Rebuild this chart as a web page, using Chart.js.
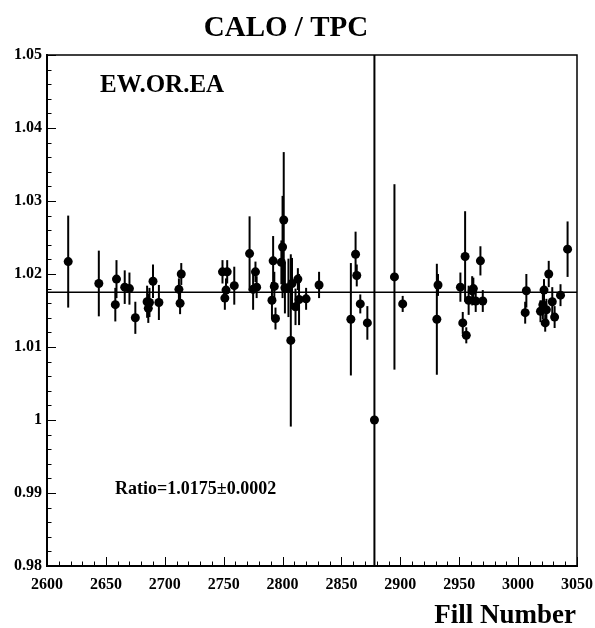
<!DOCTYPE html>
<html>
<head>
<meta charset="utf-8">
<script src="https://cdn.jsdelivr.net/npm/chart.js@4.4.1/dist/chart.umd.min.js"></script>
<style>
  body { margin: 0; background: #fff; }
  canvas { display: block; }
</style>
</head>
<body>
<canvas id="ratioChart" width="595" height="628"></canvas>
<script>
// fill numbers, CALO/TPC ratio and its error
const fills = [2618, 2644, 2658, 2659, 2666, 2670, 2675, 2685, 2686, 2687, 2690, 2695,
    2712, 2713, 2714, 2749, 2751, 2752, 2753, 2759, 2772, 2775, 2777, 2778,
    2791, 2792, 2793, 2794, 2799, 2800, 2801, 2802, 2805, 2807, 2808, 2811, 2813, 2814, 2820, 2831,
    2858, 2862, 2863, 2866, 2872, 2878, 2895, 2902, 2931, 2932,
    2951, 2953, 2955, 2956, 2958, 2961, 2962, 2964, 2968, 2970,
    3006, 3007, 3019, 3021, 3022, 3023, 3024, 3026, 3029, 3031, 3036, 3042];
const ratios = [1.0217, 1.0187, 1.0158, 1.0193, 1.0182, 1.0180, 1.0140, 1.0162, 1.0153, 1.0161, 1.0190, 1.0161,
    1.0179, 1.0160, 1.0200, 1.0203, 1.0167, 1.0178, 1.0203, 1.0184, 1.0228, 1.0179, 1.0203, 1.0182,
    1.0164, 1.0218, 1.0183, 1.0139, 1.0216, 1.0237, 1.0274, 1.0181, 1.0181, 1.0109, 1.0187, 1.0155, 1.0193, 1.0165, 1.0166, 1.0185,
    1.0138, 1.0227, 1.0198, 1.0159, 1.0133, 1.0000, 1.0196, 1.0159, 1.0138, 1.0185,
    1.0182, 1.0133, 1.0224, 1.0116, 1.0164, 1.0177, 1.0180, 1.0163, 1.0218, 1.0163,
    1.0147, 1.0177, 1.0149, 1.0158, 1.0178, 1.0133, 1.0151, 1.0200, 1.0162, 1.0141, 1.0171, 1.0234];
const errors = [0.0063, 0.0045, 0.0023, 0.0026, 0.0023, 0.0022, 0.0022, 0.0022, 0.0020, 0.0020, 0.0023, 0.0024,
    0.0015, 0.0015, 0.0015, 0.0016, 0.0016, 0.0016, 0.0016, 0.0026, 0.0051, 0.0028, 0.0014, 0.0015,
    0.0025, 0.0034, 0.0020, 0.0015, 0.0030, 0.0070, 0.0093, 0.0035, 0.0040, 0.0118, 0.0035, 0.0025, 0.0015, 0.0035, 0.0015, 0.0018,
    0.0077, 0.0031, 0.0015, 0.0013, 0.0023, 0.1000, 0.0127, 0.0011, 0.0076, 0.0015,
    0.0020, 0.0015, 0.0062, 0.0011, 0.0020, 0.0020, 0.0015, 0.0015, 0.0020, 0.0015,
    0.0015, 0.0023, 0.0015, 0.0020, 0.0015, 0.0012, 0.0015, 0.0018, 0.0020, 0.0015, 0.0015, 0.0038];
const fitRatio = 1.0175;

const serif = '"Liberation Serif", "DejaVu Serif", serif';

// error bars, fit line, inner ticks, frame and labels
const rootStyle = {
    id: 'rootStyle',
    beforeDatasetsDraw(chart) {
        const { ctx, chartArea: a, scales: { x, y } } = chart;
        ctx.save();
        ctx.beginPath();
        ctx.rect(a.left, a.top, a.right - a.left, a.bottom - a.top);
        ctx.clip();
        ctx.strokeStyle = '#000';
        ctx.lineWidth = 2;
        fills.forEach((f, i) => {
            const px = x.getPixelForValue(f);
            ctx.beginPath();
            ctx.moveTo(px, y.getPixelForValue(ratios[i] + errors[i]));
            ctx.lineTo(px, y.getPixelForValue(ratios[i] - errors[i]));
            ctx.stroke();
        });
        const fy = y.getPixelForValue(fitRatio);
        ctx.lineWidth = 1.5;
        ctx.beginPath();
        ctx.moveTo(a.left, fy);
        ctx.lineTo(a.right, fy);
        ctx.stroke();
        ctx.restore();
    },
    afterDraw(chart) {
        const { ctx, chartArea: a, scales: { x, y } } = chart;
        ctx.save();
        ctx.strokeStyle = '#000';
        ctx.lineWidth = 1;
        // x ticks
        for (let v = 2600; v <= 3050; v += 10) {
            const px = Math.round(x.getPixelForValue(v)) + 0.5;
            const len = v % 50 === 0 ? 9 : 4.5;
            ctx.beginPath();
            ctx.moveTo(px, a.bottom);
            ctx.lineTo(px, a.bottom - len);
            ctx.stroke();
        }
        // y ticks
        for (let k = 0; k <= 35; k++) {
            const py = Math.round(y.getPixelForValue(0.98 + k * 0.002)) + 0.5;
            const len = k % 5 === 0 ? 9 : 4.5;
            ctx.beginPath();
            ctx.moveTo(a.left, py);
            ctx.lineTo(a.left + len, py);
            ctx.stroke();
        }
        // frame
        ctx.lineWidth = 1.5;
        ctx.strokeRect(a.left, a.top, a.right - a.left, a.bottom - a.top);

        ctx.fillStyle = '#000';
        ctx.textBaseline = 'alphabetic';
        ctx.font = 'bold 29px ' + serif;
        ctx.textAlign = 'center';
        ctx.fillText('CALO / TPC', 286, 36);
        ctx.textAlign = 'left';
        ctx.font = 'bold 25px ' + serif;
        ctx.fillText('EW.OR.EA', 100, 92);
        ctx.font = 'bold 18px ' + serif;
        ctx.fillText('Ratio=' + fitRatio.toFixed(4) + '\u00b10.0002', 115, 494);
        ctx.textAlign = 'right';
        ctx.font = 'bold 27px ' + serif;
        ctx.fillText('Fill Number', 576, 623);
        ctx.restore();
    }
};

const ctx = document.getElementById('ratioChart').getContext('2d');
new Chart(ctx, {
    type: 'scatter',
    data: {
        datasets: [{
            label: 'CALO / TPC',
            data: fills.map((f, i) => ({ x: f, y: ratios[i] })),
            pointRadius: 4.5,
            pointBackgroundColor: '#000',
            pointBorderWidth: 0
        }]
    },
    options: {
        responsive: false,
        animation: false,
        layout: { padding: { top: 55, right: 18, left: 0, bottom: 0 } },
        plugins: {
            legend: { display: false },
            tooltip: { enabled: false }
        },
        scales: {
            x: {
                type: 'linear',
                min: 2600,
                max: 3050,
                afterFit: s => {
                    s.height = 62;
                    s.paddingLeft = 0;
                    s.paddingRight = 0;
                },
                grid: { display: false, drawTicks: false },
                border: { color: '#000', width: 2 },
                ticks: {
                    stepSize: 50,
                    autoSkip: false,
                    maxRotation: 0,
                    padding: 9,
                    color: '#000',
                    font: { family: serif, size: 16, weight: 'bold' },
                    callback: v => String(v)
                }
            },
            y: {
                min: 0.98,
                max: 1.05,
                afterFit: s => {
                    s.width = 47;
                    s.paddingTop = 0;
                    s.paddingBottom = 0;
                },
                grid: { display: false, drawTicks: false },
                border: { color: '#000', width: 2 },
                ticks: {
                    stepSize: 0.01,
                    padding: 5,
                    color: '#000',
                    font: { family: serif, size: 16, weight: 'bold' },
                    callback: v => String(Number(v.toFixed(2)))
                }
            }
        }
    },
    plugins: [rootStyle]
});
</script>
</body>
</html>
